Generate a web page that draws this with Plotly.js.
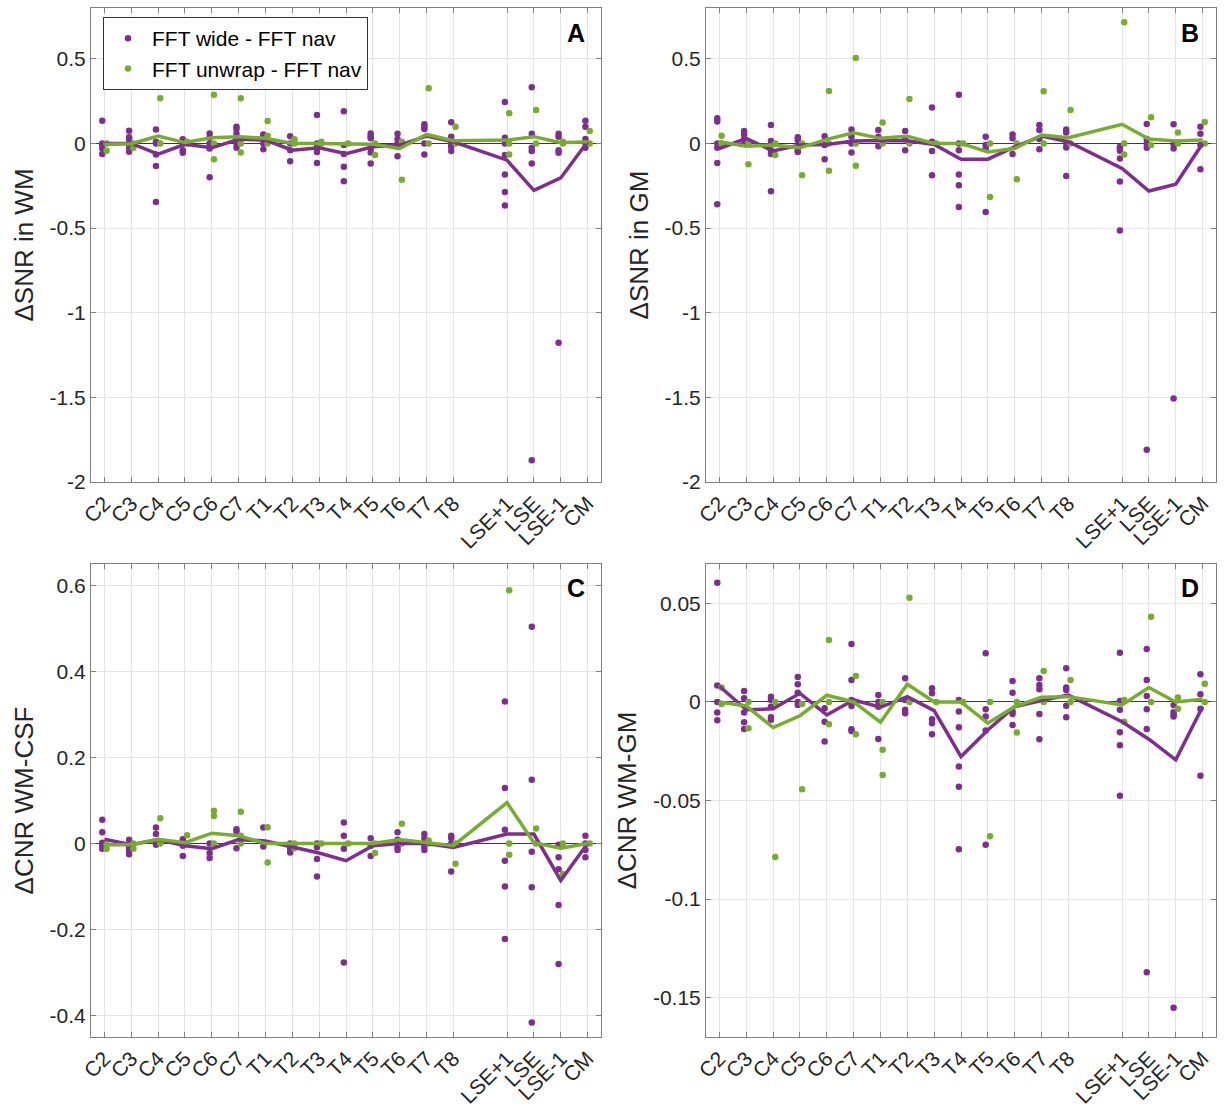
<!DOCTYPE html>
<html><head><meta charset="utf-8">
<script src="https://cdn.plot.ly/plotly-3.0.1.min.js"></script>
<style>html,body{margin:0;padding:0;background:#fff}#chart{width:1224px;height:1113px}</style>
</head><body><div id="chart"></div>
<script>
// ---------- DATA ----------
const categories = ["C2","C3","C4","C5","C6","C7","T1","T2","T3","T4","T5","T6","T7","T8","LSE+1","LSE","LSE-1","CM"];
const xPositions = [1,2,3,4,5,6,7,8,9,10,11,12,13,14,16,17,18,19];
const seriesNames = ["FFT wide - FFT nav", "FFT unwrap - FFT nav"];

// Panel A: ΔSNR in WM
const aWideDots = [
  [0.134,0,-0.01,-0.03,-0.063],[0.075,0.036,0.024,0,-0.026,-0.049],[0.083,0.01,0,-0.065,-0.134,-0.346],
  [0.024,0,-0.04,-0.055],[0.059,0.034,0,-0.03,-0.2],[0.099,0.085,0.059,0.03,0,-0.026],
  [0.053,0.043,0,-0.034],[0.043,0,-0.04,-0.105],[0.168,0,-0.016,-0.03,-0.05,-0.115],
  [0.19,-0.01,-0.063,-0.138,-0.223],[0.059,0.043,0.03,-0.03,-0.053,-0.119],[0.057,0.026,0,-0.02,-0.075],
  [0.113,0.099,0.085,0,-0.065],[0.125,0.04,0,-0.02,-0.045],[0.245,0.034,0,-0.069,-0.184,-0.287,-0.366],
  [0.332,0.057,-0.026,-0.045,-0.119,-1.872],[0.057,0.04,-0.04,-0.055,-1.178],[0.134,0.099,0.026,0,-0.026]
];
const aUnwrapDots = [
  [0,-0.043],[0,-0.026],[0.267,0],[0.01,0],[0.287,0,-0.093],[0.267,0,-0.053],
  [0.132,0.045,0],[0.024,0],[0.01,0],[0],[0,-0.069],[0.01,-0.215],
  [0.326,0],[0.099,0],[0.178,0,-0.065],[0.198,0],[0.01,0],[0.073,0]
];
const aWideMean   = [0,0,-0.063,-0.005,-0.026,0.024,0.02,-0.04,-0.026,-0.06,-0.02,-0.01,0.043,0.01,-0.099,-0.277,-0.204,0.01];
const aUnwrapMean = [-0.006,-0.002,0.043,0.005,0.034,0.04,0.03,0,0,0,-0.005,-0.03,0.053,0.016,0.02,0.04,0.004,0.01];

// Panel B: ΔSNR in GM
const bWideDots = [
  [0.148,0.129,0,-0.026,-0.115,-0.36],[0.073,0.053,0.026,0],[0.109,0.014,-0.04,-0.063,-0.283],
  [0.036,0.02,-0.04,-0.05],[0.043,-0.01,-0.093],[0.083,0.04,0,-0.053],
  [0.079,0.04,-0.016],[0.073,0.024,-0.04],[0.212,0.01,-0.045,-0.188],
  [0.287,0,-0.04,-0.184,-0.247,-0.376],[0.04,-0.01,-0.03,-0.405],[0.053,0.03,-0.063],
  [0.109,0.079,0.026,-0.034],[0.083,0.065,0,-0.024,-0.192],[-0.02,-0.03,-0.043,-0.089,-0.225,-0.514],
  [0.115,0.026,0,-0.026,-1.809],[0.113,-0.006,-0.03,-1.507],[0.099,0.057,-0.01,-0.152]
];
const bUnwrapDots = [
  [0.045,0],[0,-0.123],[0,-0.069],[0,-0.188],[0.31,0,-0.162],[0.504,0,-0.132],
  [0.123,0],[0.263,0],[0],[0],[0,-0.316],[0,-0.212],
  [0.308,0],[0.198,0],[0.716,0,-0.065],[0.154,-0.01],[0.065,0],[0.127,0]
];
const bWideMean   = [-0.03,0.03,-0.044,-0.01,-0.006,0.014,0.018,0.016,-0.006,-0.093,-0.093,-0.02,0.043,0.01,-0.148,-0.281,-0.241,0];
const bUnwrapMean = [0.01,-0.016,-0.01,-0.026,0.024,0.063,0.03,0.043,0,0,-0.05,-0.03,0.05,0.034,0.113,0.026,0.014,0.02];

// Panel C: ΔCNR WM-CSF
const cWideDots = [
  [0.055,0.026,0.002,-0.005,-0.012],[0.009,-0.009,-0.016,-0.025],[0.037,0.022,0.002,-0.003],
  [0.01,-0.005,-0.029],[0,-0.022,-0.034],[0.033,0.028,-0.011],
  [0.037,-0.007],[0,-0.013,-0.021],[0,-0.009,-0.036,-0.077],
  [0.049,0.018,-0.012,-0.277],[0.012,-0.005,-0.029],[0.026,0.009,-0.009,-0.015],
  [0.022,0.012,-0.007,-0.015],[0.018,0.012,0,-0.065],[0.33,0.129,0.032,-0.04,-0.1,-0.222],
  [0.504,0.148,-0.019,-0.102,-0.416],[-0.003,-0.032,-0.06,-0.143,-0.28],[0.018,0,-0.015,-0.032]
];
const cUnwrapDots = [
  [-0.003,-0.012],[0,-0.012],[0.059,0],[0.019,0],[0.076,0.064,0],[0.074,0.018,0],
  [0.038,-0.044],[0,-0.011],[0],[0],[0,-0.022],[0.046,0],
  [0.007,0],[0,-0.047],[0.589,0,-0.026],[0.035,0],[0,-0.071],[0]
];
const cWideMean   = [0.01,-0.003,0.009,-0.005,-0.012,0.009,0.006,-0.007,-0.022,-0.04,-0.005,0,0,-0.009,0.022,0.022,-0.086,0];
const cUnwrapMean = [-0.003,-0.003,0.01,0.002,0.024,0.018,0,0,0,0,0,0.009,0.002,-0.005,0.095,0.002,-0.011,0];

// Panel D: ΔCNR WM-GM
const dWideDots = [
  [0.0605,0.0084,0,-0.0054,-0.0093],[0.0056,0.0019,-0.0054,-0.0103,-0.0137],[0.0027,0.001,-0.0024,-0.0078,-0.009],
  [0.0127,0.009,0.0047,0,-0.0015],[-0.0032,-0.01,-0.0201],[0.0294,0.0111,0.001,-0.002,-0.0139,-0.0147],
  [0.0035,0,-0.0024,-0.0188],[0.012,0.001,-0.004,-0.0057],[0.0069,0.0044,-0.0088,-0.0108,-0.0164],
  [0.001,-0.0049,-0.0128,-0.0328,-0.043,-0.0747],[0.0247,-0.0037,-0.0074,-0.0145,-0.0725],[0.0106,0.0047,-0.0049,-0.0061,-0.0117],
  [0.012,0.0086,0.0064,-0.0061,-0.0189],[0.0171,0.0073,0.0061,-0.0019,-0.0078],[0.025,0.0005,-0.004,-0.0154,-0.022,-0.0476],
  [0.0269,0.0111,0.003,-0.0037,-0.0137,-0.1372],[-0.0015,-0.0052,-0.0066,-0.0074,-0.1552],[0.014,0.0039,-0.0035,-0.0375]
];
const dUnwrapDots = [
  [0.0073,-0.001],[0,-0.0133],[0,-0.0787],[-0.001,-0.0443],[0.0314,0,-0.0113],[0.0132,0,-0.0164],
  [0,-0.0243,-0.037],[0.0529,0],[0],[0],[0,-0.0682],[0,-0.0155],
  [0.0157,0],[0.0111,0],[0.001,-0.01],[0.0432,0],[0.0022,-0.0035],[0.0093,0]
];
const dWideMean   = [0.008,-0.004,-0.0035,0.0044,-0.0066,0.001,-0.0027,0.0027,-0.0044,-0.0277,-0.0142,-0.0024,0.0007,0.0035,-0.01,-0.0189,-0.0294,-0.0024];
const dUnwrapMean = [0,-0.002,-0.013,-0.007,0.0034,0,-0.0103,0.009,0,0,-0.0108,-0.0024,0.0024,0.0027,-0.0015,0.0073,0,0.0014];

// Y tick labels
const abTicks = [-2,-1.5,-1,-0.5,0,0.5];
const abTickText = ["-2","-1.5","-1","-0.5","0","0.5"];
const cTicks = [-0.4,-0.2,0,0.2,0.4,0.6];
const cTickText = ["-0.4","-0.2","0","0.2","0.4","0.6"];
const dTicks = [-0.15,-0.1,-0.05,0,0.05];
const dTickText = ["-0.15","-0.1","-0.05","0","0.05"];

const yTitles = ["ΔSNR in WM","ΔSNR in GM","ΔCNR WM-CSF","ΔCNR WM-GM"];
const panelLetters = ["A","B","C","D"];

// ---------- STYLE ----------
const PURPLE = "#7E2F8E", GREEN = "#77AC30";
const FONT = "Liberation Sans, Arial, Helvetica, sans-serif";
const W = 1224, H = 1113;
const dotOffset = 0.08;

function flatten(dots, offset) {
  const xs = [], ys = [];
  dots.forEach((vals, i) => vals.forEach(v => { xs.push(xPositions[i] + offset); ys.push(v); }));
  return {xs, ys};
}

const panels = [
  {wide: aWideDots, unwrap: aUnwrapDots, wm: aWideMean, um: aUnwrapMean},
  {wide: bWideDots, unwrap: bUnwrapDots, wm: bWideMean, um: bUnwrapMean},
  {wide: cWideDots, unwrap: cUnwrapDots, wm: cWideMean, um: cUnwrapMean},
  {wide: dWideDots, unwrap: dUnwrapDots, wm: dWideMean, um: dUnwrapMean}
];

const traces = [];
panels.forEach((p, k) => {
  const xa = k === 0 ? "x" : "x" + (k + 1);
  const ya = k === 0 ? "y" : "y" + (k + 1);
  const w = flatten(p.wide, -dotOffset), u = flatten(p.unwrap, dotOffset);
  traces.push({x: w.xs, y: w.ys, xaxis: xa, yaxis: ya, type: "scatter", mode: "markers",
    name: seriesNames[0], showlegend: k === 0, legendgroup: "w",
    marker: {color: PURPLE, size: 6.5}});
  traces.push({x: u.xs, y: u.ys, xaxis: xa, yaxis: ya, type: "scatter", mode: "markers",
    name: seriesNames[1], showlegend: k === 0, legendgroup: "u",
    marker: {color: GREEN, size: 6.5}});
  traces.push({x: xPositions, y: p.wm, xaxis: xa, yaxis: ya, type: "scatter", mode: "lines",
    showlegend: false, hoverinfo: "skip", line: {color: PURPLE, width: 3.5}});
  traces.push({x: xPositions, y: p.um, xaxis: xa, yaxis: ya, type: "scatter", mode: "lines",
    showlegend: false, hoverinfo: "skip", line: {color: GREEN, width: 3.5}});
});

const xDomL = [91 / W, 601 / W], xDomR = [706 / W, 1216 / W];
const yDomT = [1 - 482 / H, 1 - 8 / H], yDomB = [1 - 1037 / H, 1 - 564 / H];

function xAxis(domain, anchor) {
  return {domain, anchor, range: [0.5, 19.5], tickmode: "array", tickvals: xPositions, ticktext: categories,
    tickangle: -45, tickfont: {size: 21, color: "#262626", family: FONT},
    showgrid: true, gridcolor: "#e4e4e4", gridwidth: 1, zeroline: false,
    showline: true, mirror: "ticks", linecolor: "#808080", linewidth: 1,
    ticks: "inside", ticklen: 5, tickcolor: "#808080", automargin: false};
}
function yAxis(domain, anchor, range, tv, tt, title) {
  return {domain, anchor, range, tickmode: "array", tickvals: tv, ticktext: tt,
    tickfont: {size: 21, color: "#262626", family: FONT},
    showgrid: true, gridcolor: "#e4e4e4", gridwidth: 1,
    zeroline: true, zerolinecolor: "#3a3a3a", zerolinewidth: 1,
    showline: true, mirror: "ticks", linecolor: "#808080", linewidth: 1,
    ticks: "inside", ticklen: 5, tickcolor: "#808080", automargin: false,
    title: {text: title, font: {size: 26, color: "#262626", family: FONT}, standoff: 8}};
}

const letterPos = [[576, 33], [1190, 33], [576, 588], [1190, 588]];
const annotations = panelLetters.map((t, i) => ({
  text: "<b>" + t + "</b>", xref: "paper", yref: "paper",
  x: letterPos[i][0] / W, y: 1 - letterPos[i][1] / H, xanchor: "center", yanchor: "middle",
  showarrow: false, font: {size: 25, color: "#000", family: FONT}
}));

const layout = {
  width: W, height: H, margin: {l: 0, r: 0, t: 0, b: 0},
  paper_bgcolor: "#fff", plot_bgcolor: "#fff", font: {family: FONT, color: "#262626"},
  showlegend: true,
  legend: {x: 103 / W, y: 1 - 17 / H, xanchor: "left", yanchor: "top",
    bgcolor: "#fff", bordercolor: "#333", borderwidth: 1, itemwidth: 38,
    font: {size: 21, color: "#000", family: FONT}, tracegroupgap: 0},
  xaxis: xAxis(xDomL, "y"), yaxis: yAxis(yDomT, "x", [-2, 0.8], abTicks, abTickText, yTitles[0]),
  xaxis2: xAxis(xDomR, "y2"), yaxis2: yAxis(yDomT, "x2", [-2, 0.8], abTicks, abTickText, yTitles[1]),
  xaxis3: xAxis(xDomL, "y3"), yaxis3: yAxis(yDomB, "x3", [-0.45, 0.65], cTicks, cTickText, yTitles[2]),
  xaxis4: xAxis(xDomR, "y4"), yaxis4: yAxis(yDomB, "x4", [-0.17, 0.07], dTicks, dTickText, yTitles[3]),
  annotations
};

Plotly.newPlot("chart", traces, layout, {displayModeBar: false, staticPlot: true});
</script></body></html>
